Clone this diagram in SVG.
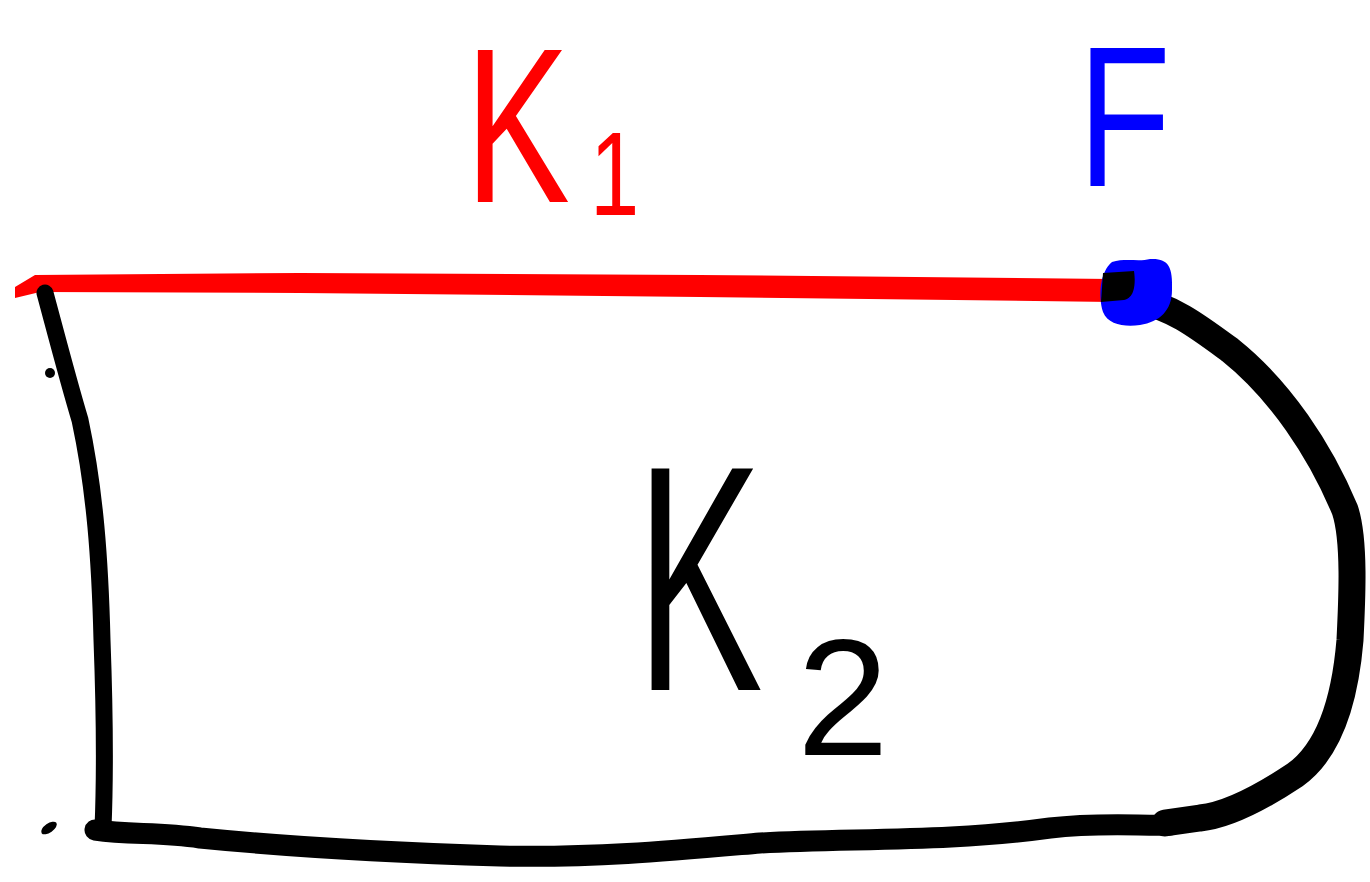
<svg xmlns="http://www.w3.org/2000/svg" width="1370" height="882" viewBox="0 0 1370 882">
<style>
.lbl{font-family:"Liberation Sans","DejaVu Sans",sans-serif;font-weight:normal}
.blk{fill:none;stroke:#000;stroke-linecap:round;stroke-linejoin:round}
</style>
<rect width="1370" height="882" fill="#fff"/>
<g id="connectors">
<path id="red-edge" d="M15,287 L35,275 L300,273 L700,275 L1112,279 L1112,302 L700,297 L300,293 L40,292 L15,298 Z" fill="#f00"/>
<path id="left-edge" class="blk" stroke-width="17" d="M45,293 C55,330 68,380 80,420 C95,490 100,560 102,640 C105,720 105,780 103,828"/>
<path id="bottom-edge" class="blk" stroke-width="21" d="M95,830 C130,835 160,832 200,838 C300,848 400,853 500,856 C600,858 680,850 760,843 C850,838 950,842 1050,828 C1100,822 1140,826 1170,825"/>
<path id="right-edge" class="blk" stroke-width="27" d="M1140,302 C1170,305 1200,328 1230,350 C1280,390 1320,450 1345,510 C1355,540 1352,600 1350,640 C1345,700 1330,750 1295,775 C1265,795 1230,815 1200,818 L1165,823"/>
<circle cx="50" cy="373" r="5" fill="#000"/>
<ellipse cx="49" cy="828" rx="9" ry="4.5" transform="rotate(-35 49 828)" fill="#000"/>
</g>
<g id="node-F">
<path d="M1112,262 C1125,258 1140,262 1150,259 C1168,258 1173,266 1172,290 C1172,310 1160,322 1140,325 C1125,327 1108,325 1103,312 C1098,295 1100,272 1112,262 Z" fill="#00f"/>
<path d="M1103,273 L1134,271 C1136,285 1134,298 1124,300 L1101,302 Z" fill="#000"/>
<text class="lbl" transform="translate(1078,186) scale(0.76,1)" font-size="200" fill="#00f">F</text>
</g>
<g id="label-K1">
<text class="lbl" transform="translate(465,202) scale(0.715,1)" font-size="220" fill="#f00">K</text>
<text class="lbl" transform="translate(590,215) scale(0.75,1)" font-size="118" fill="#f00">1</text>
</g>
<g id="label-K2">
<text class="lbl" transform="translate(636,690) scale(0.59,1)" font-size="322" fill="#000">K</text>
<text class="lbl" x="797" y="755" font-size="165" fill="#000">2</text>
</g>
</svg>
